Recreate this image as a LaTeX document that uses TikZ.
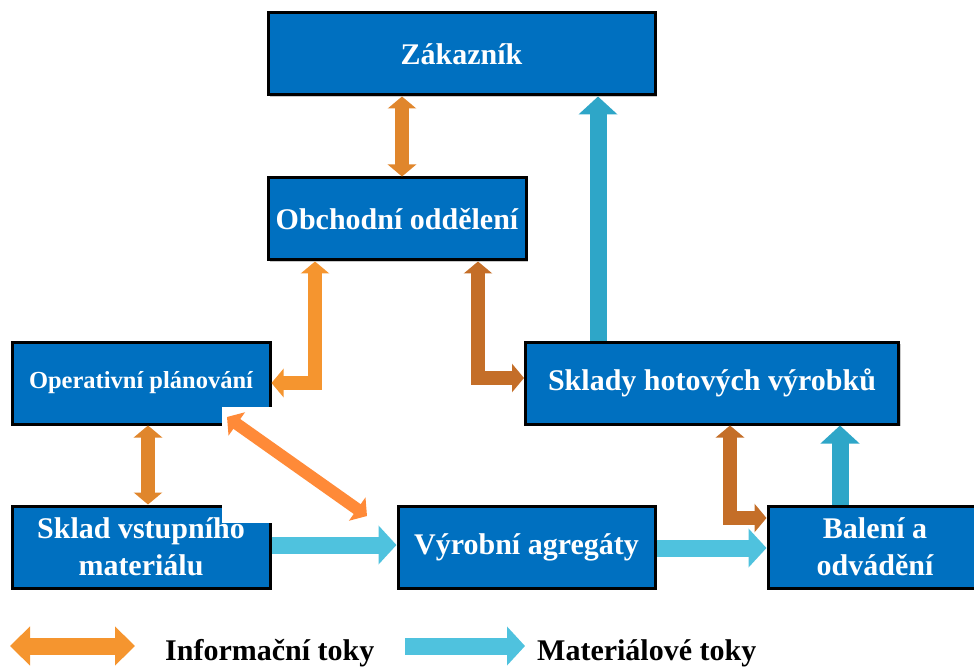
\documentclass[tikz,border=0pt]{standalone}
\usepackage{fontspec}
\setmainfont{Liberation Serif}
\usetikzlibrary{arrows.meta,shadows,calc}

\definecolor{boxblue}{HTML}{0070C0}
\definecolor{infolight}{HTML}{F5952F}
\definecolor{infomid}{HTML}{E0862C}
\definecolor{infodark}{HTML}{C46E28}
\definecolor{infobright}{HTML}{FF8A38}
\definecolor{matdark}{HTML}{2EA6C8}
\definecolor{matlight}{HTML}{4FC2DE}

\tikzset{
  procbox/.style={draw=black, line width=3pt, fill=boxblue, text=white,
    font=\bfseries\fontsize{30}{37}\selectfont, align=center,
    minimum height=82pt, inner sep=0pt,
    drop shadow={shadow xshift=2pt, shadow yshift=-2pt, fill=gray!60, opacity=0.7}},
  infoflow/.style={line width=14pt, line join=miter,
    {Triangle[width=28pt,length=12pt]}-{Triangle[width=28pt,length=12pt]}},
  matflow/.style={line width=17pt,
    -{Triangle[width=38pt,length=18pt]}},
  legendtext/.style={font=\bfseries\fontsize{30}{34}\selectfont, anchor=base west, inner sep=0pt}
}

\begin{document}
\begin{tikzpicture}[x=1pt, y=-1pt]
  \useasboundingbox (0,0) rectangle (974,668);
  \clip (0,0) rectangle (974,668);

  % process boxes
  \node[procbox, minimum width=387pt] (zak)  at (461.5,54)  {Zákazník};
  \node[procbox, minimum width=258pt] (obch) at (397,219)   {Obchodní oddělení};
  \node[procbox, minimum width=258pt, font=\bfseries\fontsize{24.5}{30}\selectfont]
                                      (oper) at (141,383)   {Operativní plánování};
  \node[procbox, minimum width=373pt] (sklh) at (712,383)   {Sklady hotových výrobků};
  \node[procbox, minimum width=258pt] (sklv) at (141,547)   {Sklad vstupního\\materiálu};
  \node[procbox, minimum width=257pt] (vyr)  at (526.5,547) {Výrobní agregáty};
  \node[procbox, minimum width=214pt] (bal)  at (875,547)   {Balení a\\odvádění};

  % blank patch over the adjoining box corners
  \fill[white] (222,407) rectangle (272,523);

  % information flows
  \draw[infoflow, infomid] ([xshift=5pt]obch.north) -- ([xshift=5pt]obch.north |- zak.south);
  \draw[infoflow, infolight] ([xshift=-82pt]obch.south) |- (oper.east);
  \draw[infoflow, infodark] ([xshift=81pt]obch.south) |- ([yshift=5pt]sklh.west);
  \draw[infoflow, infomid] ([xshift=7pt]oper.south) -- ([xshift=7pt]sklv.north);
  \draw[infoflow, infodark] ([xshift=18pt]sklh.south) |- ([yshift=29pt]bal.west);
  \coordinate (diagA) at (227,417);
  \coordinate (diagB) at (367,516);
  \draw[infoflow, infobright, line width=12pt] (diagA) -- (diagB);

  % material flows
  \draw[matflow, matdark] ([xshift=-114pt]sklh.north) -- ([xshift=-114pt]sklh.north |- zak.south);
  \draw[matflow, matdark] ([xshift=-35pt]bal.north) -- ([xshift=-35pt]bal.north |- sklh.south);
  \draw[matflow, matlight] ([yshift=2pt]sklv.east) -- ([yshift=2pt]sklv.east -| vyr.west);
  \draw[matflow, matlight] ([yshift=-1pt]vyr.east) -- ([yshift=-1pt]vyr.east -| bal.west);

  % legend
  \coordinate (legIa) at (10,646);
  \coordinate (legIb) at (135,646);
  \draw[line width=17pt, infolight,
    {Triangle[width=38pt,length=20pt]}-{Triangle[width=38pt,length=20pt]}] (legIa) -- (legIb);
  \node[legendtext] (legI) at (165,660) {Informační toky};
  \coordinate (legMa) at (405,646);
  \coordinate (legMb) at (525,646);
  \draw[matflow, matlight] (legMa) -- (legMb);
  \node[legendtext] (legM) at (537,660) {Materiálové toky};
\end{tikzpicture}
\end{document}
